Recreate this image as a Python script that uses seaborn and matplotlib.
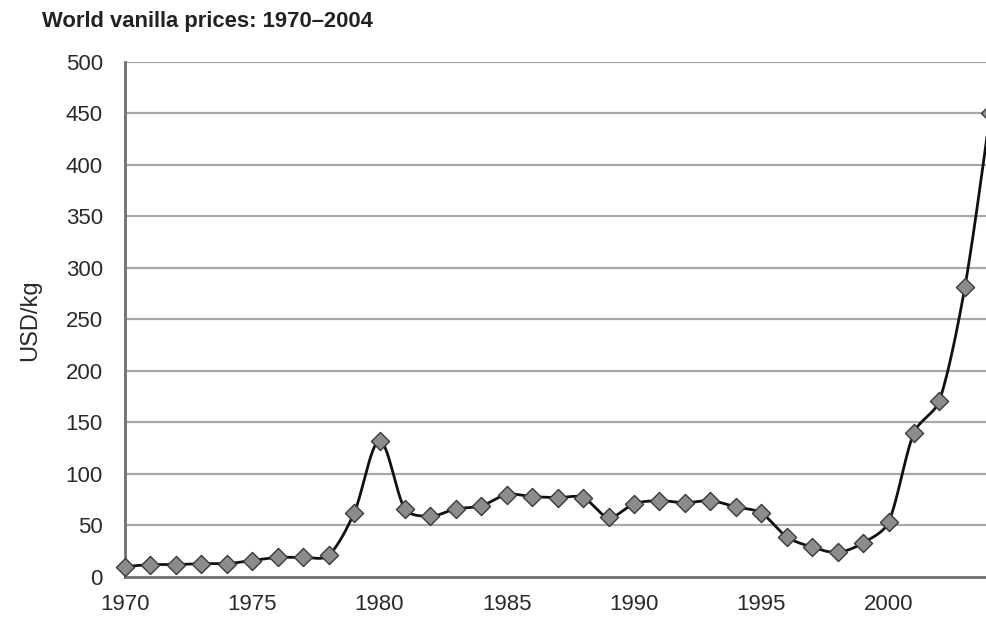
import numpy as np
import pandas as pd
import matplotlib
matplotlib.use("Agg")
import matplotlib.pyplot as plt
import seaborn as sns

years = [1970, 1971, 1972, 1973, 1974, 1975, 1976, 1977, 1978, 1979,
         1980, 1981, 1982, 1983, 1984, 1985, 1986, 1987, 1988, 1989,
         1990, 1991, 1992, 1993, 1994, 1995, 1996, 1997, 1998, 1999,
         2000, 2001, 2002, 2003, 2004]
prices = [10, 12, 12, 13, 13, 16, 19, 19, 21, 62,
          132, 66, 59, 66, 69, 80, 78, 77, 77, 58,
          71, 74, 72, 74, 68, 62, 39, 29, 24, 33,
          53, 140, 171, 281, 450]
x_ticks = [1970, 1975, 1980, 1985, 1990, 1995, 2000]
y_ticks = [0, 50, 100, 150, 200, 250, 300, 350, 400, 450, 500]
title = "World vanilla prices: 1970\u20132004"
y_label = "USD/kg"

df = pd.DataFrame({"year": years, "price": prices})

sns.set_style("white")
plt.rcParams["font.family"] = ["Liberation Sans", "DejaVu Sans"]

fig = plt.figure(figsize=(9.87, 6.19), dpi=100)
ax = fig.add_axes([125 / 987, 1 - 577 / 619, 1 - 125 / 987, (577 - 61.5) / 619])

PX_PER_YEAR = 25.45
PX_PER_UNIT = 515.5 / 500


def smooth(xs, ys, n=40, k=0.33):
    """Smoothed line through the data (cubic Bezier, Catmull-Rom tangents limited by segment length)."""
    X = np.asarray(xs, float) * PX_PER_YEAR
    Y = np.asarray(ys, float) * PX_PER_UNIT
    P = np.column_stack([X, Y])
    m = len(P)
    tang = []
    for i in range(m):
        a = P[i - 1] if i > 0 else P[i]
        b = P[i + 1] if i + 1 < m else P[i]
        tang.append((b - a) / 6.0)
    out = []
    for i in range(m - 1):
        p1, p2 = P[i], P[i + 1]
        L = np.linalg.norm(p2 - p1) * k
        t1, t2 = tang[i], tang[i + 1]
        n1, n2 = np.linalg.norm(t1), np.linalg.norm(t2)
        if n1 > L:
            t1 = t1 * L / n1
        if n2 > L:
            t2 = t2 * L / n2
        b1 = p1 + t1
        b2 = p2 - t2
        t = np.linspace(0, 1, n)[:, None]
        seg = ((1 - t) ** 3) * p1 + 3 * ((1 - t) ** 2) * t * b1 + 3 * (1 - t) * t ** 2 * b2 + t ** 3 * p2
        out.append(seg if i == 0 else seg[1:])
    c = np.vstack(out)
    return c[:, 0] / PX_PER_YEAR, c[:, 1] / PX_PER_UNIT


sx, sy = smooth(df["year"], df["price"])
ax.plot(sx, sy, color="#111111", linewidth=2.0, zorder=3, clip_on=False)
sns.scatterplot(data=df, x="year", y="price", ax=ax, marker="D", s=85,
                color="#8c8c8c", edgecolor="#3a3a3a", linewidth=1.0,
                zorder=4, clip_on=False, legend=False)

ax.set_xlim(1970, 1970 + (987 - 125) / PX_PER_YEAR)
ax.set_ylim(0, 500)
ax.set_xticks(x_ticks)
ax.set_yticks(y_ticks)
ax.set_xticklabels([str(v) for v in x_ticks], fontsize=16, color="#2a2a2a")
ax.set_yticklabels([str(v) for v in y_ticks], fontsize=16, color="#2a2a2a")

for v in y_ticks[1:]:
    ax.axhline(v, color="#a8a8a8", linewidth=1.6, zorder=1)

for s in ["top", "right"]:
    ax.spines[s].set_visible(False)
for s in ["left", "bottom"]:
    ax.spines[s].set_color("#6f6f6f")
    ax.spines[s].set_linewidth(2.0)

ax.tick_params(axis="y", direction="out", length=8, width=1.6, color="#6f6f6f", pad=8)
ax.tick_params(axis="x", direction="out", length=7, width=1.6, color="#6f6f6f", pad=5)

ax.set_xlabel("")
ax.set_ylabel("")
fig.text(30 / 987, 1 - 320 / 619, y_label, fontsize=17, color="#2a2a2a",
         rotation=90, ha="center", va="center")

fig.text(42 / 987, 1 - 21 / 619, title, fontsize=15.8, fontweight="bold",
         color="#222222", ha="left", va="center")

fig.savefig("out.png", dpi=100)
